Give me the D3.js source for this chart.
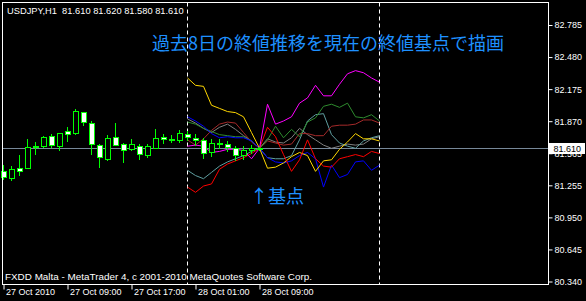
<!DOCTYPE html>
<html>
<head>
<meta charset="utf-8">
<script src="https://cdn.jsdelivr.net/npm/d3@7"></script>
<style>
  body { margin: 0; background: #000; }
  svg { display: block; }
  text { font-family: "Liberation Sans", Arial, sans-serif; }
</style>
</head>
<body>
<svg id="chart"></svg>
<script>
// Define the dimensions of the SVG container
const width = 586;
const height = 301;

// USDJPY H1 candles, 27 Oct 01:00 .. 28 Oct 09:00
const opens  = [81.39, 81.32, 81.42, 81.42, 81.63, 81.63, 81.72, 81.63, 81.77, 81.75, 81.95,
                81.85, 81.64, 81.50, 81.71, 81.65, 81.60, 81.63, 81.54, 81.61, 81.71, 81.69,
                81.68, 81.74, 81.70, 81.68, 81.57, 81.65, 81.65, 81.61, 81.54, 81.59, 81.61];
const highs  = [81.45, 81.44, 81.55, 81.70, 81.67, 81.73, 81.75, 81.76, 81.81, 81.98, 81.95,
                81.87, 81.65, 81.74, 81.85, 81.66, 81.70, 81.65, 81.65, 81.79, 81.75, 81.74,
                81.78, 81.77, 81.75, 81.71, 81.70, 81.70, 81.68, 81.63, 81.63, 81.64, 81.62];
const lows   = [81.31, 81.30, 81.35, 81.41, 81.55, 81.61, 81.61, 81.58, 81.67, 81.74, 81.82,
                81.55, 81.42, 81.49, 81.63, 81.47, 81.58, 81.50, 81.52, 81.60, 81.65, 81.66,
                81.66, 81.68, 81.63, 81.51, 81.53, 81.60, 81.57, 81.49, 81.50, 81.56, 81.58];
const closes = [81.33, 81.41, 81.39, 81.62, 81.63, 81.71, 81.64, 81.75, 81.74, 81.96, 81.86,
                81.65, 81.52, 81.70, 81.64, 81.59, 81.65, 81.55, 81.63, 81.70, 81.69, 81.69,
                81.75, 81.71, 81.68, 81.56, 81.66, 81.66, 81.62, 81.54, 81.59, 81.61, 81.61];

const symbol = 'USDJPY,H1';
const basePrice = 81.61;
const baseBar = 32;      // the current bar
const lineStart = 23;    // 28 Oct 00:00
const lineEnd = 47;      // 29 Oct 00:00

// past 8 days, pips away from the base point, 28 Oct 00:00 .. 29 Oct 00:00
const magenta = [2, 3, 2, -4, -3, -1, -1, -2, -10, 0, 42, 23, 26, 30, 43, 48, 60, 50, 50, 61, 71, 74, 72, 67, 63];
const yellow  = [67, 60, 59, 41, 38, 35, 34, 30, 15, 0, -19, -18, -14, -8, -4, -7, -22, -12, -11, -1, 6, 14, 9, 9, 7];
const blue    = [30, 26, 21, 14, 10, 11, 10, 10, 7, 0, -9, -13, -14, -12, -7, -4, -10, -37, -16, -28, -25, -13, -12, -21, -16];
const green   = [25, 23, 19, 16, 13, 12, 11, 11, 7, 0, 8, 21, 10, 18, 11, 25, 29, 40, 42, 39, 43, 30, 29, 32, 26];
const red     = [-37, -42, -36, -34, -20, -15, -12, -9, -5, 0, 20, 11, -6, -22, -11, 8, -10, -17, -18, -10, -8, -6, -8, -3, -5];
const brown   = [8, 3, 9, 17, 23, 25, 24, 15, 6, 0, 7, 5, 3, 4, 14, 14, 12, 12, 21, 22, 22, 23, 27, 27, 24];
const cadet   = [-21, -26, -29, -23, -17, -13, -10, -7, -3, 0, -9, -10, -10, -7, 8, 26, 32, 33, 13, 5, 2, 0, 7, 10, 12];
const gray    = [28, 24, 19, 15, 20, 23, 18, 12, 7, 0, 9, 6, 5, 10, 19, 13, 8, 3, 0, 2, 4, 3, 4, 9, 11];

const pastDays = [
  { color: '#808080', values: gray },
  { color: '#5F9EA0', values: cadet },
  { color: '#A52A2A', values: brown },
  { color: '#2E8B2E', values: green },
  { color: '#0000FF', values: blue },
  { color: '#FFD700', values: yellow },
  { color: '#FF0000', values: red },
  { color: '#FF00FF', values: magenta },
];

// axis labels
const timeTicks = [0, 8, 16, 24, 32];
const timeLabels = ['27 Oct 2010', '27 Oct 09:00', '27 Oct 17:00', '28 Oct 01:00', '28 Oct 09:00'];
const priceLabels = ['82.785', '82.480', '82.175', '81.870', '81.565', '81.255', '80.950', '80.645', '80.340'];
const priceTop = 82.785;
const priceBottom = 80.34;

const title = '過去8日の終値推移を現在の終値基点で描画';
const baseNote = '↑基点';
const footer = 'FXDD Malta - MetaTrader 4, c 2001-2010 MetaQuotes Software Corp.';

// scales
const x = d3.scaleLinear().domain([0, 32]).range([3.5, 259.5]);
const y = d3.scaleLinear().domain([priceBottom, priceTop]).range([281.5, 25]);

const plotLeft = 2.5, plotTop = 2.5, plotRight = 548.5, plotBottom = 284.5;

const svg = d3.select('#chart')
  .attr('width', width)
  .attr('height', height)
  .style('background', '#000');

// bid line
const bidY = Math.round(y(basePrice)) + 0.5;
svg.append('line')
  .attr('x1', plotLeft).attr('x2', plotRight)
  .attr('y1', bidY).attr('y2', bidY)
  .attr('stroke', '#778899');

// day separators
[lineStart, lineEnd].forEach((b) => {
  svg.append('line')
    .attr('x1', x(b)).attr('x2', x(b))
    .attr('y1', plotTop).attr('y2', plotBottom)
    .attr('stroke', '#fff')
    .attr('stroke-dasharray', '4,3');
});

// past day lines
const line = d3.line()
  .x((d, j) => x(lineStart + j))
  .y((d) => y(basePrice + d / 100));

svg.selectAll('path.day')
  .data(pastDays)
  .enter()
  .append('path')
  .attr('class', 'day')
  .attr('d', (d) => line(d.values))
  .attr('fill', 'none')
  .attr('stroke', (d) => d.color)
  .attr('stroke-width', 1);

// candles
const bars = d3.range(opens.length);
const candle = svg.append('g').attr('shape-rendering', 'crispEdges');
candle.selectAll('line.wick')
  .data(bars)
  .enter()
  .append('line')
  .attr('x1', (i) => x(i)).attr('x2', (i) => x(i))
  .attr('y1', (i) => y(highs[i])).attr('y2', (i) => y(lows[i]))
  .attr('stroke', '#00FF00');
candle.selectAll('rect.body')
  .data(bars)
  .enter()
  .append('rect')
  .attr('x', (i) => x(i) - 2.5)
  .attr('width', 5)
  .attr('y', (i) => y(Math.max(opens[i], closes[i])))
  .attr('height', (i) => Math.max(1, Math.abs(y(opens[i]) - y(closes[i]))))
  .attr('fill', (i) => (closes[i] < opens[i] ? '#fff' : (closes[i] > opens[i] ? '#000' : '#00FF00')))
  .attr('stroke', '#00FF00');

// frame
svg.append('rect')
  .attr('x', plotLeft).attr('y', plotTop)
  .attr('width', plotRight - plotLeft).attr('height', plotBottom - plotTop)
  .attr('fill', 'none')
  .attr('stroke', '#fff')
  .attr('shape-rendering', 'crispEdges');

// price axis
const priceStep = (priceTop - priceBottom) / (priceLabels.length - 1);
const priceTicks = priceLabels.map((d, i) => priceTop - i * priceStep);
const yAxis = svg.append('g')
  .attr('transform', `translate(${plotRight},0)`)
  .call(d3.axisRight(y).tickValues(priceTicks).tickFormat((d, i) => priceLabels[i]).tickSize(4).tickSizeOuter(0).tickPadding(2));
yAxis.select('.domain').remove();
yAxis.selectAll('line').attr('stroke', '#fff');
yAxis.selectAll('text').attr('fill', '#fff').style('font-size', '9px').style('font-family', '"Liberation Sans", Arial, sans-serif');

// current price box (covers the 81.565 label, as in MT4)
svg.append('rect')
  .attr('x', plotRight + 0.5).attr('y', bidY - 5.5)
  .attr('width', 36).attr('height', 11)
  .attr('fill', '#fff');
svg.append('text')
  .attr('x', plotRight + 5).attr('y', bidY)
  .attr('dy', '0.35em')
  .attr('fill', '#000')
  .style('font-size', '9px')
  .text(closes[baseBar].toFixed(3));

// time axis
const xAxis = svg.append('g')
  .attr('transform', `translate(0,${plotBottom})`)
  .call(d3.axisBottom(x).tickValues(timeTicks).tickFormat((d, i) => timeLabels[i]).tickSize(5).tickSizeOuter(0));
xAxis.select('.domain').remove();
xAxis.selectAll('line').attr('stroke', '#fff');
xAxis.selectAll('text')
  .attr('fill', '#fff')
  .attr('text-anchor', 'start')
  .attr('x', 2).attr('y', 4)
  .style('font-size', '9px')
  .style('font-family', '"Liberation Sans", Arial, sans-serif');

// header
const last = baseBar;
svg.append('text')
  .attr('x', 7).attr('y', 14)
  .attr('fill', '#fff')
  .style('font-size', '9.3px')
  .style('white-space', 'pre')
  .text(`${symbol}  ${[opens[last], highs[last], lows[last], closes[last]].map((v) => v.toFixed(3)).join(' ')}`);

// notes
svg.append('text')
  .attr('x', 152).attr('y', 50)
  .attr('fill', '#1E90FF')
  .style('font-family', '"Noto Sans CJK JP", sans-serif')
  .style('font-size', '18px')
  .text(title);
svg.append('text')
  .attr('x', x(baseBar) - 9.5).attr('y', 203)
  .attr('fill', '#1E90FF')
  .style('font-family', '"Noto Sans CJK JP", sans-serif')
  .style('font-size', '18px')
  .text(baseNote);

svg.append('text')
  .attr('x', 5).attr('y', 280)
  .attr('fill', '#fff')
  .style('font-size', '9.9px')
  .text(footer);
</script>
</body>
</html>
